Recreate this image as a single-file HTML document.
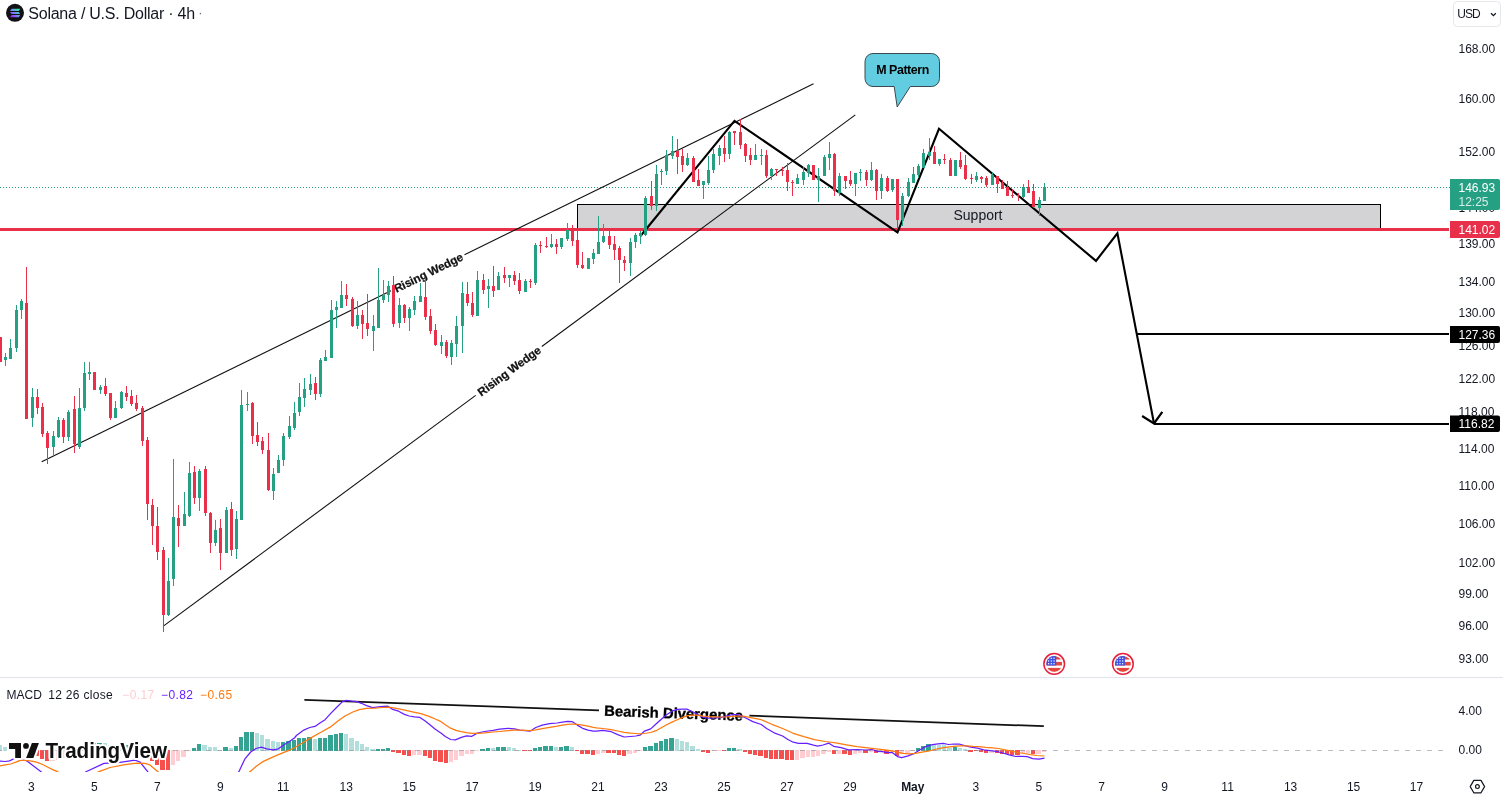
<!DOCTYPE html>
<html lang="en"><head><meta charset="utf-8"><title>Solana / U.S. Dollar 4h</title>
<style>
html,body{margin:0;padding:0;background:#fff;}
body{width:1503px;height:797px;overflow:hidden;font-family:'Liberation Sans', Arial, sans-serif;}
svg{display:block;will-change:transform;}
</style></head><body>
<svg width="1503" height="797" viewBox="0 0 1503 797">
<rect width="1503" height="797" fill="#fff"/>
<g shape-rendering="crispEdges">
<rect x="577.5" y="204.5" width="803" height="25" fill="#d3d3d5" stroke="#000" stroke-width="1"/>
<rect x="0" y="228" width="1449" height="3" fill="#e8304a"/>
</g>
<line x1="0" y1="187.5" x2="1450" y2="187.5" stroke="#26a083" stroke-width="1" stroke-dasharray="1 2" shape-rendering="crispEdges"/>
<line x1="41.7" y1="461.7" x2="391.0" y2="290.7" stroke="#111" stroke-width="1.1"/>
<line x1="464.5" y1="254.7" x2="813.5" y2="83.8" stroke="#111" stroke-width="1.1"/>
<line x1="163.0" y1="626.4" x2="475.7" y2="395.4" stroke="#111" stroke-width="1.1"/>
<line x1="541.8" y1="346.5" x2="855.3" y2="114.9" stroke="#111" stroke-width="1.1"/>
<text transform="translate(428.3,272.4) rotate(-26.09)" x="0" y="4.3" text-anchor="middle" font-family="'Liberation Sans', Arial, sans-serif" font-weight="700" font-size="11.6" letter-spacing="-0.1" stroke="#111" stroke-width="0.25" fill="#111">Rising Wedge</text>
<text transform="translate(509.0,370.8) rotate(-36.46)" x="0" y="4.3" text-anchor="middle" font-family="'Liberation Sans', Arial, sans-serif" font-weight="700" font-size="11.6" letter-spacing="-0.1" stroke="#111" stroke-width="0.25" fill="#111">Rising Wedge</text>
<polyline fill="none" stroke="#000" stroke-width="2.1" stroke-linejoin="miter" points="640.5,236 734.5,120.8 897.5,232.3 939,128.8 1096,260.9 1117.4,233.3 1154,423.5"/>
<polyline fill="none" stroke="#000" stroke-width="2.2" points="1142.1,416 1154,423.5 1162.3,411.8"/>
<line x1="1136.6" y1="333.5" x2="1449" y2="333.5" stroke="#000" stroke-width="2" shape-rendering="crispEdges"/>
<line x1="1154" y1="423.5" x2="1449" y2="423.5" stroke="#000" stroke-width="2" shape-rendering="crispEdges"/>
<text x="978" y="220" text-anchor="middle" font-family="'Liberation Sans', Arial, sans-serif" font-size="14" fill="#131722">Support</text>
<path d="M873,53.5 H931.5 a8,8 0 0 1 8,8 V78.5 a8,8 0 0 1 -8,8 H910.3 L897.2,107 L894.2,86.5 H873 a8,8 0 0 1 -8,-8 V61.5 a8,8 0 0 1 8,-8 Z" fill="#62cce0" stroke="#3a4a50" stroke-width="1"/>
<text x="902.5" y="73.8" text-anchor="middle" font-family="'Liberation Sans', Arial, sans-serif" font-weight="700" font-size="12.4" letter-spacing="-0.42" fill="#000">M Pattern</text>
<g shape-rendering="crispEdges">
<rect x="0" y="337" width="1" height="25" fill="#e8304a"/>
<rect x="-1" y="337" width="3" height="25" fill="#e8304a"/>
<rect x="5" y="353" width="1" height="13" fill="#26a083"/>
<rect x="4" y="357" width="3" height="3" fill="#26a083"/>
<rect x="10" y="339" width="1" height="20" fill="#26a083"/>
<rect x="9" y="348" width="3" height="11" fill="#26a083"/>
<rect x="16" y="305" width="1" height="47" fill="#26a083"/>
<rect x="15" y="310" width="3" height="38" fill="#26a083"/>
<rect x="21" y="299" width="1" height="20" fill="#26a083"/>
<rect x="20" y="301" width="3" height="9" fill="#26a083"/>
<rect x="26" y="267" width="1" height="152" fill="#e8304a"/>
<rect x="25" y="303" width="3" height="116" fill="#e8304a"/>
<rect x="32" y="388" width="1" height="39" fill="#26a083"/>
<rect x="31" y="397" width="3" height="21" fill="#26a083"/>
<rect x="37" y="389" width="1" height="25" fill="#e8304a"/>
<rect x="36" y="397" width="3" height="11" fill="#e8304a"/>
<rect x="42" y="403" width="1" height="34" fill="#e8304a"/>
<rect x="41" y="407" width="3" height="27" fill="#e8304a"/>
<rect x="47" y="431" width="1" height="33" fill="#e8304a"/>
<rect x="46" y="433" width="3" height="15" fill="#e8304a"/>
<rect x="53" y="431" width="1" height="24" fill="#26a083"/>
<rect x="52" y="436" width="3" height="11" fill="#26a083"/>
<rect x="58" y="417" width="1" height="21" fill="#26a083"/>
<rect x="57" y="420" width="3" height="17" fill="#26a083"/>
<rect x="63" y="418" width="1" height="25" fill="#e8304a"/>
<rect x="62" y="420" width="3" height="17" fill="#e8304a"/>
<rect x="68" y="410" width="1" height="31" fill="#26a083"/>
<rect x="67" y="412" width="3" height="25" fill="#26a083"/>
<rect x="74" y="396" width="1" height="57" fill="#e8304a"/>
<rect x="73" y="409" width="3" height="35" fill="#e8304a"/>
<rect x="79" y="388" width="1" height="61" fill="#26a083"/>
<rect x="78" y="408" width="3" height="39" fill="#26a083"/>
<rect x="84" y="362" width="1" height="49" fill="#26a083"/>
<rect x="83" y="373" width="3" height="35" fill="#26a083"/>
<rect x="89" y="362" width="1" height="18" fill="#26a083"/>
<rect x="88" y="372" width="3" height="2" fill="#26a083"/>
<rect x="94" y="372" width="1" height="18" fill="#e8304a"/>
<rect x="93" y="372" width="3" height="18" fill="#e8304a"/>
<rect x="100" y="385" width="1" height="9" fill="#26a083"/>
<rect x="99" y="387" width="3" height="3" fill="#26a083"/>
<rect x="105" y="378" width="1" height="18" fill="#e8304a"/>
<rect x="104" y="386" width="3" height="8" fill="#e8304a"/>
<rect x="110" y="393" width="1" height="27" fill="#e8304a"/>
<rect x="109" y="393" width="3" height="25" fill="#e8304a"/>
<rect x="115" y="401" width="1" height="17" fill="#26a083"/>
<rect x="114" y="408" width="3" height="10" fill="#26a083"/>
<rect x="121" y="391" width="1" height="18" fill="#26a083"/>
<rect x="120" y="392" width="3" height="16" fill="#26a083"/>
<rect x="126" y="386" width="1" height="15" fill="#e8304a"/>
<rect x="125" y="393" width="3" height="4" fill="#e8304a"/>
<rect x="131" y="390" width="1" height="16" fill="#e8304a"/>
<rect x="130" y="396" width="3" height="8" fill="#e8304a"/>
<rect x="136" y="395" width="1" height="16" fill="#e8304a"/>
<rect x="135" y="403" width="3" height="6" fill="#e8304a"/>
<rect x="142" y="406" width="1" height="40" fill="#e8304a"/>
<rect x="141" y="408" width="3" height="33" fill="#e8304a"/>
<rect x="147" y="437" width="1" height="83" fill="#e8304a"/>
<rect x="146" y="440" width="3" height="64" fill="#e8304a"/>
<rect x="152" y="499" width="1" height="46" fill="#e8304a"/>
<rect x="151" y="505" width="3" height="21" fill="#e8304a"/>
<rect x="157" y="507" width="1" height="53" fill="#e8304a"/>
<rect x="156" y="526" width="3" height="26" fill="#e8304a"/>
<rect x="163" y="547" width="1" height="85" fill="#e8304a"/>
<rect x="162" y="550" width="3" height="65" fill="#e8304a"/>
<rect x="168" y="558" width="1" height="58" fill="#26a083"/>
<rect x="167" y="581" width="3" height="34" fill="#26a083"/>
<rect x="173" y="459" width="1" height="127" fill="#26a083"/>
<rect x="172" y="517" width="3" height="62" fill="#26a083"/>
<rect x="178" y="505" width="1" height="42" fill="#e8304a"/>
<rect x="177" y="518" width="3" height="8" fill="#e8304a"/>
<rect x="184" y="492" width="1" height="34" fill="#26a083"/>
<rect x="183" y="514" width="3" height="12" fill="#26a083"/>
<rect x="189" y="462" width="1" height="55" fill="#26a083"/>
<rect x="188" y="473" width="3" height="43" fill="#26a083"/>
<rect x="194" y="466" width="1" height="38" fill="#e8304a"/>
<rect x="193" y="472" width="3" height="26" fill="#e8304a"/>
<rect x="199" y="469" width="1" height="42" fill="#26a083"/>
<rect x="198" y="471" width="3" height="27" fill="#26a083"/>
<rect x="205" y="466" width="1" height="50" fill="#e8304a"/>
<rect x="204" y="469" width="3" height="44" fill="#e8304a"/>
<rect x="210" y="512" width="1" height="41" fill="#e8304a"/>
<rect x="209" y="513" width="3" height="30" fill="#e8304a"/>
<rect x="215" y="520" width="1" height="26" fill="#26a083"/>
<rect x="214" y="530" width="3" height="13" fill="#26a083"/>
<rect x="220" y="519" width="1" height="51" fill="#e8304a"/>
<rect x="219" y="528" width="3" height="25" fill="#e8304a"/>
<rect x="226" y="507" width="1" height="46" fill="#26a083"/>
<rect x="225" y="510" width="3" height="43" fill="#26a083"/>
<rect x="231" y="502" width="1" height="54" fill="#e8304a"/>
<rect x="230" y="509" width="3" height="41" fill="#e8304a"/>
<rect x="236" y="511" width="1" height="48" fill="#26a083"/>
<rect x="235" y="519" width="3" height="30" fill="#26a083"/>
<rect x="241" y="390" width="1" height="130" fill="#26a083"/>
<rect x="240" y="405" width="3" height="115" fill="#26a083"/>
<rect x="247" y="392" width="1" height="19" fill="#26a083"/>
<rect x="246" y="404" width="3" height="1" fill="#26a083"/>
<rect x="252" y="402" width="1" height="42" fill="#e8304a"/>
<rect x="251" y="403" width="3" height="33" fill="#e8304a"/>
<rect x="257" y="422" width="1" height="24" fill="#e8304a"/>
<rect x="256" y="435" width="3" height="7" fill="#e8304a"/>
<rect x="262" y="437" width="1" height="17" fill="#e8304a"/>
<rect x="261" y="441" width="3" height="9" fill="#e8304a"/>
<rect x="268" y="433" width="1" height="58" fill="#e8304a"/>
<rect x="267" y="450" width="3" height="40" fill="#e8304a"/>
<rect x="273" y="468" width="1" height="32" fill="#26a083"/>
<rect x="272" y="474" width="3" height="17" fill="#26a083"/>
<rect x="278" y="455" width="1" height="18" fill="#26a083"/>
<rect x="277" y="460" width="3" height="13" fill="#26a083"/>
<rect x="283" y="433" width="1" height="33" fill="#26a083"/>
<rect x="282" y="436" width="3" height="24" fill="#26a083"/>
<rect x="289" y="416" width="1" height="23" fill="#26a083"/>
<rect x="288" y="426" width="3" height="11" fill="#26a083"/>
<rect x="294" y="402" width="1" height="28" fill="#26a083"/>
<rect x="293" y="413" width="3" height="15" fill="#26a083"/>
<rect x="299" y="383" width="1" height="33" fill="#26a083"/>
<rect x="298" y="397" width="3" height="15" fill="#26a083"/>
<rect x="304" y="378" width="1" height="29" fill="#26a083"/>
<rect x="303" y="389" width="3" height="9" fill="#26a083"/>
<rect x="310" y="374" width="1" height="21" fill="#26a083"/>
<rect x="309" y="384" width="3" height="6" fill="#26a083"/>
<rect x="315" y="377" width="1" height="23" fill="#e8304a"/>
<rect x="314" y="383" width="3" height="11" fill="#e8304a"/>
<rect x="320" y="358" width="1" height="39" fill="#26a083"/>
<rect x="319" y="360" width="3" height="34" fill="#26a083"/>
<rect x="325" y="350" width="1" height="11" fill="#26a083"/>
<rect x="324" y="357" width="3" height="4" fill="#26a083"/>
<rect x="331" y="300" width="1" height="58" fill="#26a083"/>
<rect x="330" y="310" width="3" height="48" fill="#26a083"/>
<rect x="336" y="301" width="1" height="27" fill="#26a083"/>
<rect x="335" y="307" width="3" height="3" fill="#26a083"/>
<rect x="341" y="281" width="1" height="27" fill="#26a083"/>
<rect x="340" y="295" width="3" height="13" fill="#26a083"/>
<rect x="346" y="284" width="1" height="22" fill="#e8304a"/>
<rect x="345" y="295" width="3" height="4" fill="#e8304a"/>
<rect x="352" y="297" width="1" height="30" fill="#e8304a"/>
<rect x="351" y="299" width="3" height="27" fill="#e8304a"/>
<rect x="357" y="301" width="1" height="28" fill="#26a083"/>
<rect x="356" y="315" width="3" height="11" fill="#26a083"/>
<rect x="362" y="310" width="1" height="29" fill="#e8304a"/>
<rect x="361" y="315" width="3" height="9" fill="#e8304a"/>
<rect x="367" y="294" width="1" height="42" fill="#e8304a"/>
<rect x="366" y="323" width="3" height="6" fill="#e8304a"/>
<rect x="373" y="315" width="1" height="36" fill="#26a083"/>
<rect x="372" y="326" width="3" height="5" fill="#26a083"/>
<rect x="378" y="268" width="1" height="60" fill="#26a083"/>
<rect x="377" y="300" width="3" height="28" fill="#26a083"/>
<rect x="383" y="280" width="1" height="23" fill="#26a083"/>
<rect x="382" y="295" width="3" height="5" fill="#26a083"/>
<rect x="388" y="281" width="1" height="21" fill="#26a083"/>
<rect x="387" y="286" width="3" height="9" fill="#26a083"/>
<rect x="393" y="276" width="1" height="51" fill="#e8304a"/>
<rect x="392" y="285" width="3" height="39" fill="#e8304a"/>
<rect x="399" y="298" width="1" height="30" fill="#26a083"/>
<rect x="398" y="305" width="3" height="18" fill="#26a083"/>
<rect x="404" y="304" width="1" height="19" fill="#e8304a"/>
<rect x="403" y="305" width="3" height="13" fill="#e8304a"/>
<rect x="409" y="307" width="1" height="24" fill="#26a083"/>
<rect x="408" y="309" width="3" height="9" fill="#26a083"/>
<rect x="414" y="296" width="1" height="19" fill="#26a083"/>
<rect x="413" y="301" width="3" height="9" fill="#26a083"/>
<rect x="420" y="283" width="1" height="19" fill="#26a083"/>
<rect x="419" y="296" width="3" height="6" fill="#26a083"/>
<rect x="425" y="278" width="1" height="42" fill="#e8304a"/>
<rect x="424" y="297" width="3" height="20" fill="#e8304a"/>
<rect x="430" y="309" width="1" height="25" fill="#e8304a"/>
<rect x="429" y="316" width="3" height="15" fill="#e8304a"/>
<rect x="435" y="324" width="1" height="22" fill="#e8304a"/>
<rect x="434" y="330" width="3" height="15" fill="#e8304a"/>
<rect x="441" y="335" width="1" height="19" fill="#26a083"/>
<rect x="440" y="342" width="3" height="4" fill="#26a083"/>
<rect x="446" y="340" width="1" height="18" fill="#e8304a"/>
<rect x="445" y="342" width="3" height="14" fill="#e8304a"/>
<rect x="451" y="340" width="1" height="25" fill="#26a083"/>
<rect x="450" y="343" width="3" height="14" fill="#26a083"/>
<rect x="456" y="316" width="1" height="41" fill="#26a083"/>
<rect x="455" y="326" width="3" height="18" fill="#26a083"/>
<rect x="462" y="282" width="1" height="71" fill="#26a083"/>
<rect x="461" y="293" width="3" height="33" fill="#26a083"/>
<rect x="467" y="282" width="1" height="24" fill="#e8304a"/>
<rect x="466" y="294" width="3" height="9" fill="#e8304a"/>
<rect x="472" y="292" width="1" height="25" fill="#e8304a"/>
<rect x="471" y="303" width="3" height="12" fill="#e8304a"/>
<rect x="477" y="271" width="1" height="45" fill="#26a083"/>
<rect x="476" y="280" width="3" height="36" fill="#26a083"/>
<rect x="483" y="274" width="1" height="20" fill="#e8304a"/>
<rect x="482" y="280" width="3" height="10" fill="#e8304a"/>
<rect x="488" y="279" width="1" height="29" fill="#26a083"/>
<rect x="487" y="286" width="3" height="3" fill="#26a083"/>
<rect x="493" y="266" width="1" height="31" fill="#e8304a"/>
<rect x="492" y="286" width="3" height="5" fill="#e8304a"/>
<rect x="498" y="272" width="1" height="18" fill="#26a083"/>
<rect x="497" y="276" width="3" height="14" fill="#26a083"/>
<rect x="504" y="267" width="1" height="16" fill="#e8304a"/>
<rect x="503" y="275" width="3" height="3" fill="#e8304a"/>
<rect x="509" y="275" width="1" height="12" fill="#26a083"/>
<rect x="508" y="275" width="3" height="3" fill="#26a083"/>
<rect x="514" y="271" width="1" height="14" fill="#e8304a"/>
<rect x="513" y="275" width="3" height="6" fill="#e8304a"/>
<rect x="519" y="273" width="1" height="21" fill="#e8304a"/>
<rect x="518" y="280" width="3" height="11" fill="#e8304a"/>
<rect x="525" y="279" width="1" height="13" fill="#26a083"/>
<rect x="524" y="281" width="3" height="11" fill="#26a083"/>
<rect x="530" y="279" width="1" height="9" fill="#e8304a"/>
<rect x="529" y="281" width="3" height="1" fill="#e8304a"/>
<rect x="535" y="243" width="1" height="42" fill="#26a083"/>
<rect x="534" y="245" width="3" height="38" fill="#26a083"/>
<rect x="540" y="241" width="1" height="12" fill="#e8304a"/>
<rect x="539" y="245" width="3" height="1" fill="#e8304a"/>
<rect x="546" y="237" width="1" height="11" fill="#e8304a"/>
<rect x="545" y="246" width="3" height="1" fill="#e8304a"/>
<rect x="551" y="234" width="1" height="14" fill="#26a083"/>
<rect x="550" y="244" width="3" height="3" fill="#26a083"/>
<rect x="556" y="239" width="1" height="15" fill="#e8304a"/>
<rect x="555" y="244" width="3" height="3" fill="#e8304a"/>
<rect x="561" y="238" width="1" height="11" fill="#26a083"/>
<rect x="560" y="238" width="3" height="9" fill="#26a083"/>
<rect x="567" y="223" width="1" height="18" fill="#26a083"/>
<rect x="566" y="230" width="3" height="9" fill="#26a083"/>
<rect x="572" y="225" width="1" height="21" fill="#e8304a"/>
<rect x="571" y="231" width="3" height="10" fill="#e8304a"/>
<rect x="577" y="231" width="1" height="37" fill="#e8304a"/>
<rect x="576" y="240" width="3" height="25" fill="#e8304a"/>
<rect x="582" y="252" width="1" height="17" fill="#e8304a"/>
<rect x="581" y="265" width="3" height="3" fill="#e8304a"/>
<rect x="588" y="258" width="1" height="11" fill="#26a083"/>
<rect x="587" y="258" width="3" height="11" fill="#26a083"/>
<rect x="593" y="249" width="1" height="15" fill="#26a083"/>
<rect x="592" y="253" width="3" height="6" fill="#26a083"/>
<rect x="598" y="216" width="1" height="38" fill="#26a083"/>
<rect x="597" y="242" width="3" height="12" fill="#26a083"/>
<rect x="603" y="224" width="1" height="19" fill="#26a083"/>
<rect x="602" y="236" width="3" height="6" fill="#26a083"/>
<rect x="609" y="231" width="1" height="18" fill="#e8304a"/>
<rect x="608" y="236" width="3" height="9" fill="#e8304a"/>
<rect x="614" y="236" width="1" height="24" fill="#e8304a"/>
<rect x="613" y="244" width="3" height="6" fill="#e8304a"/>
<rect x="619" y="246" width="1" height="37" fill="#e8304a"/>
<rect x="618" y="248" width="3" height="12" fill="#e8304a"/>
<rect x="624" y="256" width="1" height="15" fill="#e8304a"/>
<rect x="623" y="260" width="3" height="3" fill="#e8304a"/>
<rect x="630" y="238" width="1" height="38" fill="#26a083"/>
<rect x="629" y="242" width="3" height="21" fill="#26a083"/>
<rect x="635" y="233" width="1" height="15" fill="#26a083"/>
<rect x="634" y="235" width="3" height="7" fill="#26a083"/>
<rect x="640" y="231" width="1" height="13" fill="#26a083"/>
<rect x="639" y="233" width="3" height="3" fill="#26a083"/>
<rect x="645" y="196" width="1" height="40" fill="#26a083"/>
<rect x="644" y="198" width="3" height="37" fill="#26a083"/>
<rect x="651" y="181" width="1" height="29" fill="#e8304a"/>
<rect x="650" y="196" width="3" height="10" fill="#e8304a"/>
<rect x="656" y="165" width="1" height="46" fill="#26a083"/>
<rect x="655" y="174" width="3" height="32" fill="#26a083"/>
<rect x="661" y="169" width="1" height="16" fill="#26a083"/>
<rect x="660" y="171" width="3" height="1" fill="#26a083"/>
<rect x="666" y="150" width="1" height="25" fill="#26a083"/>
<rect x="665" y="155" width="3" height="16" fill="#26a083"/>
<rect x="672" y="136" width="1" height="23" fill="#26a083"/>
<rect x="671" y="151" width="3" height="5" fill="#26a083"/>
<rect x="677" y="139" width="1" height="35" fill="#e8304a"/>
<rect x="676" y="151" width="3" height="6" fill="#e8304a"/>
<rect x="682" y="149" width="1" height="23" fill="#e8304a"/>
<rect x="681" y="156" width="3" height="9" fill="#e8304a"/>
<rect x="687" y="153" width="1" height="13" fill="#26a083"/>
<rect x="686" y="158" width="3" height="7" fill="#26a083"/>
<rect x="693" y="156" width="1" height="26" fill="#e8304a"/>
<rect x="692" y="158" width="3" height="24" fill="#e8304a"/>
<rect x="698" y="169" width="1" height="17" fill="#e8304a"/>
<rect x="697" y="180" width="3" height="6" fill="#e8304a"/>
<rect x="703" y="181" width="1" height="18" fill="#26a083"/>
<rect x="702" y="181" width="3" height="4" fill="#26a083"/>
<rect x="708" y="156" width="1" height="29" fill="#26a083"/>
<rect x="707" y="170" width="3" height="13" fill="#26a083"/>
<rect x="713" y="149" width="1" height="24" fill="#26a083"/>
<rect x="712" y="154" width="3" height="16" fill="#26a083"/>
<rect x="719" y="145" width="1" height="20" fill="#26a083"/>
<rect x="718" y="148" width="3" height="8" fill="#26a083"/>
<rect x="724" y="136" width="1" height="26" fill="#e8304a"/>
<rect x="723" y="148" width="3" height="6" fill="#e8304a"/>
<rect x="729" y="131" width="1" height="28" fill="#26a083"/>
<rect x="728" y="132" width="3" height="22" fill="#26a083"/>
<rect x="734" y="131" width="1" height="14" fill="#e8304a"/>
<rect x="733" y="131" width="3" height="2" fill="#e8304a"/>
<rect x="740" y="119" width="1" height="30" fill="#e8304a"/>
<rect x="739" y="132" width="3" height="13" fill="#e8304a"/>
<rect x="745" y="143" width="1" height="19" fill="#e8304a"/>
<rect x="744" y="144" width="3" height="12" fill="#e8304a"/>
<rect x="750" y="148" width="1" height="17" fill="#e8304a"/>
<rect x="749" y="155" width="3" height="5" fill="#e8304a"/>
<rect x="755" y="144" width="1" height="16" fill="#26a083"/>
<rect x="754" y="155" width="3" height="5" fill="#26a083"/>
<rect x="761" y="149" width="1" height="16" fill="#26a083"/>
<rect x="760" y="155" width="3" height="1" fill="#26a083"/>
<rect x="766" y="150" width="1" height="28" fill="#e8304a"/>
<rect x="765" y="155" width="3" height="21" fill="#e8304a"/>
<rect x="771" y="168" width="1" height="12" fill="#26a083"/>
<rect x="770" y="169" width="3" height="7" fill="#26a083"/>
<rect x="776" y="169" width="1" height="7" fill="#e8304a"/>
<rect x="775" y="169" width="3" height="1" fill="#e8304a"/>
<rect x="782" y="167" width="1" height="9" fill="#e8304a"/>
<rect x="781" y="170" width="3" height="1" fill="#e8304a"/>
<rect x="787" y="163" width="1" height="28" fill="#e8304a"/>
<rect x="786" y="170" width="3" height="12" fill="#e8304a"/>
<rect x="792" y="180" width="1" height="16" fill="#e8304a"/>
<rect x="791" y="182" width="3" height="1" fill="#e8304a"/>
<rect x="797" y="174" width="1" height="10" fill="#26a083"/>
<rect x="796" y="178" width="3" height="6" fill="#26a083"/>
<rect x="803" y="167" width="1" height="18" fill="#26a083"/>
<rect x="802" y="172" width="3" height="8" fill="#26a083"/>
<rect x="808" y="164" width="1" height="13" fill="#26a083"/>
<rect x="807" y="165" width="3" height="8" fill="#26a083"/>
<rect x="813" y="165" width="1" height="15" fill="#e8304a"/>
<rect x="812" y="165" width="3" height="15" fill="#e8304a"/>
<rect x="818" y="168" width="1" height="34" fill="#26a083"/>
<rect x="817" y="176" width="3" height="4" fill="#26a083"/>
<rect x="824" y="155" width="1" height="21" fill="#26a083"/>
<rect x="823" y="157" width="3" height="19" fill="#26a083"/>
<rect x="829" y="142" width="1" height="28" fill="#26a083"/>
<rect x="828" y="154" width="3" height="4" fill="#26a083"/>
<rect x="834" y="153" width="1" height="43" fill="#e8304a"/>
<rect x="833" y="154" width="3" height="37" fill="#e8304a"/>
<rect x="839" y="173" width="1" height="23" fill="#26a083"/>
<rect x="838" y="176" width="3" height="17" fill="#26a083"/>
<rect x="845" y="176" width="1" height="13" fill="#e8304a"/>
<rect x="844" y="176" width="3" height="5" fill="#e8304a"/>
<rect x="850" y="171" width="1" height="15" fill="#e8304a"/>
<rect x="849" y="180" width="3" height="4" fill="#e8304a"/>
<rect x="855" y="173" width="1" height="23" fill="#26a083"/>
<rect x="854" y="173" width="3" height="11" fill="#26a083"/>
<rect x="860" y="169" width="1" height="12" fill="#26a083"/>
<rect x="859" y="172" width="3" height="1" fill="#26a083"/>
<rect x="866" y="170" width="1" height="16" fill="#e8304a"/>
<rect x="865" y="172" width="3" height="8" fill="#e8304a"/>
<rect x="871" y="162" width="1" height="19" fill="#26a083"/>
<rect x="870" y="170" width="3" height="10" fill="#26a083"/>
<rect x="876" y="169" width="1" height="31" fill="#e8304a"/>
<rect x="875" y="170" width="3" height="21" fill="#e8304a"/>
<rect x="881" y="174" width="1" height="25" fill="#26a083"/>
<rect x="880" y="178" width="3" height="13" fill="#26a083"/>
<rect x="887" y="176" width="1" height="16" fill="#e8304a"/>
<rect x="886" y="178" width="3" height="13" fill="#e8304a"/>
<rect x="892" y="179" width="1" height="13" fill="#26a083"/>
<rect x="891" y="179" width="3" height="11" fill="#26a083"/>
<rect x="897" y="179" width="1" height="50" fill="#e8304a"/>
<rect x="896" y="179" width="3" height="41" fill="#e8304a"/>
<rect x="902" y="193" width="1" height="33" fill="#26a083"/>
<rect x="901" y="196" width="3" height="24" fill="#26a083"/>
<rect x="908" y="178" width="1" height="19" fill="#26a083"/>
<rect x="907" y="182" width="3" height="14" fill="#26a083"/>
<rect x="913" y="167" width="1" height="16" fill="#26a083"/>
<rect x="912" y="174" width="3" height="9" fill="#26a083"/>
<rect x="918" y="164" width="1" height="14" fill="#26a083"/>
<rect x="917" y="166" width="3" height="9" fill="#26a083"/>
<rect x="923" y="149" width="1" height="19" fill="#26a083"/>
<rect x="922" y="153" width="3" height="15" fill="#26a083"/>
<rect x="929" y="138" width="1" height="22" fill="#26a083"/>
<rect x="928" y="152" width="3" height="4" fill="#26a083"/>
<rect x="934" y="146" width="1" height="18" fill="#e8304a"/>
<rect x="933" y="152" width="3" height="12" fill="#e8304a"/>
<rect x="939" y="159" width="1" height="7" fill="#26a083"/>
<rect x="938" y="159" width="3" height="5" fill="#26a083"/>
<rect x="944" y="154" width="1" height="10" fill="#e8304a"/>
<rect x="943" y="159" width="3" height="1" fill="#e8304a"/>
<rect x="950" y="158" width="1" height="18" fill="#e8304a"/>
<rect x="949" y="160" width="3" height="16" fill="#e8304a"/>
<rect x="955" y="160" width="1" height="16" fill="#26a083"/>
<rect x="954" y="160" width="3" height="16" fill="#26a083"/>
<rect x="960" y="152" width="1" height="17" fill="#e8304a"/>
<rect x="959" y="160" width="3" height="7" fill="#e8304a"/>
<rect x="965" y="155" width="1" height="25" fill="#e8304a"/>
<rect x="964" y="165" width="3" height="14" fill="#e8304a"/>
<rect x="971" y="174" width="1" height="10" fill="#e8304a"/>
<rect x="970" y="178" width="3" height="1" fill="#e8304a"/>
<rect x="976" y="172" width="1" height="10" fill="#26a083"/>
<rect x="975" y="176" width="3" height="4" fill="#26a083"/>
<rect x="981" y="176" width="1" height="7" fill="#e8304a"/>
<rect x="980" y="177" width="3" height="2" fill="#e8304a"/>
<rect x="986" y="176" width="1" height="11" fill="#e8304a"/>
<rect x="985" y="178" width="3" height="7" fill="#e8304a"/>
<rect x="992" y="172" width="1" height="13" fill="#26a083"/>
<rect x="991" y="175" width="3" height="10" fill="#26a083"/>
<rect x="997" y="176" width="1" height="17" fill="#e8304a"/>
<rect x="996" y="176" width="3" height="8" fill="#e8304a"/>
<rect x="1002" y="180" width="1" height="9" fill="#e8304a"/>
<rect x="1001" y="183" width="3" height="6" fill="#e8304a"/>
<rect x="1007" y="181" width="1" height="15" fill="#e8304a"/>
<rect x="1006" y="187" width="3" height="9" fill="#e8304a"/>
<rect x="1012" y="189" width="1" height="9" fill="#e8304a"/>
<rect x="1011" y="195" width="3" height="1" fill="#e8304a"/>
<rect x="1018" y="193" width="1" height="8" fill="#e8304a"/>
<rect x="1017" y="195" width="3" height="1" fill="#e8304a"/>
<rect x="1023" y="184" width="1" height="14" fill="#26a083"/>
<rect x="1022" y="187" width="3" height="10" fill="#26a083"/>
<rect x="1028" y="180" width="1" height="13" fill="#e8304a"/>
<rect x="1027" y="187" width="3" height="6" fill="#e8304a"/>
<rect x="1033" y="184" width="1" height="24" fill="#e8304a"/>
<rect x="1032" y="191" width="3" height="16" fill="#e8304a"/>
<rect x="1039" y="197" width="1" height="19" fill="#26a083"/>
<rect x="1038" y="200" width="3" height="8" fill="#26a083"/>
<rect x="1044" y="183" width="1" height="18" fill="#26a083"/>
<rect x="1043" y="187" width="3" height="14" fill="#26a083"/>
</g>
<g transform="translate(1054.2,663.9)">
<circle r="10.3" fill="#fff" stroke="#e8203a" stroke-width="1.5"/>
<clipPath id="fc1054"><circle r="8"/></clipPath>
<g clip-path="url(#fc1054)">
<rect x="-8" y="-8" width="16" height="16" fill="#fff"/>
<rect x="-8" y="-7.6" width="16" height="3.2" fill="#e5463c"/>
<rect x="-8" y="-2" width="16" height="3.6" fill="#e5463c"/>
<rect x="-8" y="4" width="16" height="4" fill="#e5463c"/>
<rect x="-8" y="-8" width="10" height="9.6" fill="#3f51e0"/>
<rect x="-6.2" y="-6.2" width="1.2" height="1.2" fill="#fff"/>
<rect x="-3.5" y="-6.2" width="1.2" height="1.2" fill="#fff"/>
<rect x="-0.8" y="-6.2" width="1.2" height="1.2" fill="#fff"/>
<rect x="-6.2" y="-3.5" width="1.2" height="1.2" fill="#fff"/>
<rect x="-3.5" y="-3.5" width="1.2" height="1.2" fill="#fff"/>
<rect x="-0.8" y="-3.5" width="1.2" height="1.2" fill="#fff"/>
<rect x="-6.2" y="-0.8" width="1.2" height="1.2" fill="#fff"/>
<rect x="-3.5" y="-0.8" width="1.2" height="1.2" fill="#fff"/>
<rect x="-0.8" y="-0.8" width="1.2" height="1.2" fill="#fff"/>
</g></g>
<g transform="translate(1122.9,663.9)">
<circle r="10.3" fill="#fff" stroke="#e8203a" stroke-width="1.5"/>
<clipPath id="fc1122"><circle r="8"/></clipPath>
<g clip-path="url(#fc1122)">
<rect x="-8" y="-8" width="16" height="16" fill="#fff"/>
<rect x="-8" y="-7.6" width="16" height="3.2" fill="#e5463c"/>
<rect x="-8" y="-2" width="16" height="3.6" fill="#e5463c"/>
<rect x="-8" y="4" width="16" height="4" fill="#e5463c"/>
<rect x="-8" y="-8" width="10" height="9.6" fill="#3f51e0"/>
<rect x="-6.2" y="-6.2" width="1.2" height="1.2" fill="#fff"/>
<rect x="-3.5" y="-6.2" width="1.2" height="1.2" fill="#fff"/>
<rect x="-0.8" y="-6.2" width="1.2" height="1.2" fill="#fff"/>
<rect x="-6.2" y="-3.5" width="1.2" height="1.2" fill="#fff"/>
<rect x="-3.5" y="-3.5" width="1.2" height="1.2" fill="#fff"/>
<rect x="-0.8" y="-3.5" width="1.2" height="1.2" fill="#fff"/>
<rect x="-6.2" y="-0.8" width="1.2" height="1.2" fill="#fff"/>
<rect x="-3.5" y="-0.8" width="1.2" height="1.2" fill="#fff"/>
<rect x="-0.8" y="-0.8" width="1.2" height="1.2" fill="#fff"/>
</g></g>
<text x="1458.5" y="53.2" font-family="'Liberation Sans', Arial, sans-serif" font-size="12" fill="#131722">168.00</text>
<text x="1458.5" y="102.5" font-family="'Liberation Sans', Arial, sans-serif" font-size="12" fill="#131722">160.00</text>
<text x="1458.5" y="156.0" font-family="'Liberation Sans', Arial, sans-serif" font-size="12" fill="#131722">152.00</text>
<text x="1458.5" y="212.1" font-family="'Liberation Sans', Arial, sans-serif" font-size="12" fill="#131722">144.00</text>
<text x="1458.5" y="247.8" font-family="'Liberation Sans', Arial, sans-serif" font-size="12" fill="#131722">139.00</text>
<text x="1458.5" y="285.9" font-family="'Liberation Sans', Arial, sans-serif" font-size="12" fill="#131722">134.00</text>
<text x="1458.5" y="316.9" font-family="'Liberation Sans', Arial, sans-serif" font-size="12" fill="#131722">130.00</text>
<text x="1458.5" y="349.9" font-family="'Liberation Sans', Arial, sans-serif" font-size="12" fill="#131722">126.00</text>
<text x="1458.5" y="382.9" font-family="'Liberation Sans', Arial, sans-serif" font-size="12" fill="#131722">122.00</text>
<text x="1458.5" y="415.9" font-family="'Liberation Sans', Arial, sans-serif" font-size="12" fill="#131722">118.00</text>
<text x="1458.5" y="453.1" font-family="'Liberation Sans', Arial, sans-serif" font-size="12" fill="#131722">114.00</text>
<text x="1458.5" y="489.5" font-family="'Liberation Sans', Arial, sans-serif" font-size="12" fill="#131722">110.00</text>
<text x="1458.5" y="528.1" font-family="'Liberation Sans', Arial, sans-serif" font-size="12" fill="#131722">106.00</text>
<text x="1458.5" y="566.6" font-family="'Liberation Sans', Arial, sans-serif" font-size="12" fill="#131722">102.00</text>
<text x="1458.5" y="597.9" font-family="'Liberation Sans', Arial, sans-serif" font-size="12" fill="#131722">99.00</text>
<text x="1458.5" y="629.7" font-family="'Liberation Sans', Arial, sans-serif" font-size="12" fill="#131722">96.00</text>
<text x="1458.5" y="662.9" font-family="'Liberation Sans', Arial, sans-serif" font-size="12" fill="#131722">93.00</text>
<text x="1458.5" y="715.0" font-family="'Liberation Sans', Arial, sans-serif" font-size="12" fill="#131722">4.00</text>
<text x="1458.5" y="754.0" font-family="'Liberation Sans', Arial, sans-serif" font-size="12" fill="#131722">0.00</text>
<path d="M1450,179 H1498 a2,2 0 0 1 2,2 V208 a2,2 0 0 1 -2,2 H1450 Z" fill="#26a083"/>
<text x="1458.5" y="191.5" font-family="'Liberation Sans', Arial, sans-serif" font-size="12" fill="#fff">146.93</text>
<text x="1458.5" y="206" font-family="'Liberation Sans', Arial, sans-serif" font-size="12" fill="#fff" fill-opacity="0.8">12:25</text>
<path d="M1450,221 H1498 a2,2 0 0 1 2,2 V236 a2,2 0 0 1 -2,2 H1450 Z" fill="#e8304a"/>
<text x="1458.5" y="233.8" font-family="'Liberation Sans', Arial, sans-serif" font-size="12" fill="#fff">141.02</text>
<path d="M1450,326 H1498 a2,2 0 0 1 2,2 V341 a2,2 0 0 1 -2,2 H1450 Z" fill="#000"/>
<text x="1458.5" y="338.8" font-family="'Liberation Sans', Arial, sans-serif" font-size="12" fill="#fff">127.36</text>
<path d="M1450,415.5 H1498 a2,2 0 0 1 2,2 V430 a2,2 0 0 1 -2,2 H1450 Z" fill="#000"/>
<text x="1458.5" y="428" font-family="'Liberation Sans', Arial, sans-serif" font-size="12" fill="#fff">116.82</text>
<rect x="1453.5" y="1.5" width="47" height="25" rx="4" fill="#fff" stroke="#e6e7eb" stroke-width="1"/>
<text x="1457.3" y="17.9" font-family="'Liberation Sans', Arial, sans-serif" font-size="12" letter-spacing="-1" fill="#131722">USD</text>
<path d="M1491.0,13.2 l2.4,2.4 l2.4,-2.4" fill="none" stroke="#131722" stroke-width="1.3"/>
<circle cx="15" cy="12.8" r="9" fill="#121116"/>
<defs><linearGradient id="sol" gradientUnits="userSpaceOnUse" x1="10.5" y1="17.5" x2="19.5" y2="8.5"><stop offset="0" stop-color="#a30dff"/><stop offset="0.5" stop-color="#6f8ff0"/><stop offset="1" stop-color="#22fb9a"/></linearGradient></defs>
<g fill="url(#sol)"><path d="M11.6,8.8 H20.2 L18.8,10.9 H9.95 Z"/><path d="M9.95,12 H18.8 L20.2,14.1 H11.4 Z"/><path d="M11.6,15.1 H20.2 L18.8,17.2 H9.95 Z"/></g>
<text x="28.3" y="19" font-family="'Liberation Sans', Arial, sans-serif" font-size="16" letter-spacing="-0.24" fill="#131722">Solana / U.S. Dollar · 4h<tspan fill="#6a6d78" font-size="13" dx="3.5" dy="-2.3">·</tspan></text>
<rect x="0" y="677" width="1503" height="1" fill="#e0e3eb" shape-rendering="crispEdges"/>
<clipPath id="mclip"><rect x="0" y="678" width="1450" height="94"/></clipPath>
<g clip-path="url(#mclip)">
<g shape-rendering="crispEdges">
<rect x="-2" y="745" width="4" height="6" fill="#b2dfdb"/>
<rect x="3" y="747" width="4" height="4" fill="#b2dfdb"/>
<rect x="8" y="748" width="4" height="3" fill="#b2dfdb"/>
<rect x="13" y="747" width="5" height="4" fill="#34a391"/>
<rect x="19" y="746" width="4" height="5" fill="#34a391"/>
<rect x="24" y="750" width="4" height="1" fill="#f5504e"/>
<rect x="29" y="750" width="5" height="4" fill="#f5504e"/>
<rect x="35" y="750" width="4" height="6" fill="#f5504e"/>
<rect x="40" y="750" width="4" height="9" fill="#f5504e"/>
<rect x="45" y="750" width="4" height="11" fill="#f5504e"/>
<rect x="50" y="750" width="5" height="11" fill="#ffcdd2"/>
<rect x="56" y="750" width="4" height="10" fill="#ffcdd2"/>
<rect x="61" y="750" width="4" height="8" fill="#ffcdd2"/>
<rect x="66" y="750" width="4" height="6" fill="#ffcdd2"/>
<rect x="71" y="750" width="5" height="5" fill="#ffcdd2"/>
<rect x="77" y="750" width="4" height="2" fill="#ffcdd2"/>
<rect x="82" y="748" width="4" height="3" fill="#34a391"/>
<rect x="87" y="745" width="4" height="6" fill="#34a391"/>
<rect x="92" y="743" width="4" height="8" fill="#34a391"/>
<rect x="97" y="743" width="5" height="8" fill="#34a391"/>
<rect x="103" y="743" width="4" height="8" fill="#b2dfdb"/>
<rect x="108" y="745" width="4" height="6" fill="#b2dfdb"/>
<rect x="113" y="746" width="4" height="5" fill="#b2dfdb"/>
<rect x="118" y="746" width="5" height="5" fill="#34a391"/>
<rect x="124" y="745" width="4" height="6" fill="#34a391"/>
<rect x="129" y="746" width="4" height="5" fill="#b2dfdb"/>
<rect x="134" y="748" width="4" height="3" fill="#b2dfdb"/>
<rect x="139" y="750" width="5" height="2" fill="#f5504e"/>
<rect x="145" y="750" width="4" height="7" fill="#f5504e"/>
<rect x="150" y="750" width="4" height="11" fill="#f5504e"/>
<rect x="155" y="750" width="4" height="15" fill="#f5504e"/>
<rect x="160" y="750" width="5" height="20" fill="#f5504e"/>
<rect x="166" y="750" width="4" height="20" fill="#f5504e"/>
<rect x="171" y="750" width="4" height="15" fill="#ffcdd2"/>
<rect x="176" y="750" width="4" height="11" fill="#ffcdd2"/>
<rect x="181" y="750" width="5" height="7" fill="#ffcdd2"/>
<rect x="187" y="750" width="4" height="1" fill="#ffcdd2"/>
<rect x="192" y="748" width="4" height="3" fill="#34a391"/>
<rect x="197" y="744" width="4" height="7" fill="#34a391"/>
<rect x="202" y="745" width="5" height="6" fill="#b2dfdb"/>
<rect x="208" y="747" width="4" height="4" fill="#b2dfdb"/>
<rect x="213" y="747" width="4" height="4" fill="#b2dfdb"/>
<rect x="218" y="750" width="4" height="1" fill="#b2dfdb"/>
<rect x="223" y="747" width="5" height="4" fill="#34a391"/>
<rect x="229" y="748" width="4" height="3" fill="#b2dfdb"/>
<rect x="234" y="746" width="4" height="5" fill="#34a391"/>
<rect x="239" y="737" width="4" height="14" fill="#34a391"/>
<rect x="244" y="732" width="5" height="19" fill="#34a391"/>
<rect x="250" y="732" width="4" height="19" fill="#34a391"/>
<rect x="255" y="733" width="4" height="18" fill="#b2dfdb"/>
<rect x="260" y="735" width="4" height="16" fill="#b2dfdb"/>
<rect x="265" y="739" width="5" height="12" fill="#b2dfdb"/>
<rect x="271" y="741" width="4" height="10" fill="#b2dfdb"/>
<rect x="276" y="742" width="4" height="9" fill="#b2dfdb"/>
<rect x="281" y="742" width="4" height="9" fill="#34a391"/>
<rect x="286" y="741" width="5" height="10" fill="#34a391"/>
<rect x="292" y="740" width="4" height="11" fill="#34a391"/>
<rect x="297" y="738" width="4" height="13" fill="#34a391"/>
<rect x="302" y="738" width="4" height="13" fill="#34a391"/>
<rect x="307" y="737" width="5" height="14" fill="#34a391"/>
<rect x="313" y="739" width="4" height="12" fill="#b2dfdb"/>
<rect x="318" y="738" width="4" height="13" fill="#34a391"/>
<rect x="323" y="738" width="4" height="13" fill="#34a391"/>
<rect x="328" y="735" width="5" height="16" fill="#34a391"/>
<rect x="334" y="734" width="4" height="17" fill="#34a391"/>
<rect x="339" y="733" width="4" height="18" fill="#34a391"/>
<rect x="344" y="734" width="4" height="17" fill="#b2dfdb"/>
<rect x="349" y="738" width="5" height="13" fill="#b2dfdb"/>
<rect x="355" y="741" width="4" height="10" fill="#b2dfdb"/>
<rect x="360" y="744" width="4" height="7" fill="#b2dfdb"/>
<rect x="365" y="747" width="4" height="4" fill="#b2dfdb"/>
<rect x="370" y="749" width="5" height="2" fill="#b2dfdb"/>
<rect x="376" y="749" width="4" height="2" fill="#34a391"/>
<rect x="381" y="749" width="4" height="2" fill="#34a391"/>
<rect x="386" y="748" width="4" height="3" fill="#34a391"/>
<rect x="391" y="750" width="4" height="2" fill="#f5504e"/>
<rect x="396" y="750" width="5" height="3" fill="#f5504e"/>
<rect x="402" y="750" width="4" height="5" fill="#f5504e"/>
<rect x="407" y="750" width="4" height="6" fill="#f5504e"/>
<rect x="412" y="750" width="4" height="5" fill="#ffcdd2"/>
<rect x="417" y="750" width="5" height="5" fill="#ffcdd2"/>
<rect x="423" y="750" width="4" height="6" fill="#f5504e"/>
<rect x="428" y="750" width="4" height="8" fill="#f5504e"/>
<rect x="433" y="750" width="4" height="11" fill="#f5504e"/>
<rect x="438" y="750" width="5" height="12" fill="#f5504e"/>
<rect x="444" y="750" width="4" height="13" fill="#f5504e"/>
<rect x="449" y="750" width="4" height="12" fill="#ffcdd2"/>
<rect x="454" y="750" width="4" height="10" fill="#ffcdd2"/>
<rect x="459" y="750" width="5" height="6" fill="#ffcdd2"/>
<rect x="465" y="750" width="4" height="4" fill="#ffcdd2"/>
<rect x="470" y="750" width="4" height="4" fill="#ffcdd2"/>
<rect x="475" y="750" width="4" height="1" fill="#ffcdd2"/>
<rect x="480" y="749" width="5" height="2" fill="#34a391"/>
<rect x="486" y="748" width="4" height="3" fill="#34a391"/>
<rect x="491" y="748" width="4" height="3" fill="#b2dfdb"/>
<rect x="496" y="747" width="4" height="4" fill="#34a391"/>
<rect x="501" y="747" width="5" height="4" fill="#34a391"/>
<rect x="507" y="747" width="4" height="4" fill="#b2dfdb"/>
<rect x="512" y="748" width="4" height="3" fill="#b2dfdb"/>
<rect x="517" y="750" width="4" height="1" fill="#b2dfdb"/>
<rect x="522" y="750" width="5" height="1" fill="#f5504e"/>
<rect x="528" y="750" width="4" height="1" fill="#f5504e"/>
<rect x="533" y="748" width="4" height="3" fill="#34a391"/>
<rect x="538" y="747" width="4" height="4" fill="#34a391"/>
<rect x="543" y="746" width="5" height="5" fill="#34a391"/>
<rect x="549" y="746" width="4" height="5" fill="#34a391"/>
<rect x="554" y="747" width="4" height="4" fill="#b2dfdb"/>
<rect x="559" y="747" width="4" height="4" fill="#34a391"/>
<rect x="564" y="746" width="5" height="5" fill="#34a391"/>
<rect x="570" y="747" width="4" height="4" fill="#b2dfdb"/>
<rect x="575" y="750" width="4" height="1" fill="#f5504e"/>
<rect x="580" y="750" width="4" height="4" fill="#f5504e"/>
<rect x="585" y="750" width="5" height="4" fill="#f5504e"/>
<rect x="591" y="750" width="4" height="5" fill="#f5504e"/>
<rect x="596" y="750" width="4" height="4" fill="#ffcdd2"/>
<rect x="601" y="750" width="4" height="3" fill="#ffcdd2"/>
<rect x="606" y="750" width="5" height="3" fill="#f5504e"/>
<rect x="612" y="750" width="4" height="3" fill="#f5504e"/>
<rect x="617" y="750" width="4" height="5" fill="#f5504e"/>
<rect x="622" y="750" width="4" height="6" fill="#f5504e"/>
<rect x="627" y="750" width="5" height="4" fill="#ffcdd2"/>
<rect x="633" y="750" width="4" height="3" fill="#ffcdd2"/>
<rect x="638" y="750" width="4" height="1" fill="#ffcdd2"/>
<rect x="643" y="747" width="4" height="4" fill="#34a391"/>
<rect x="648" y="746" width="5" height="5" fill="#34a391"/>
<rect x="654" y="743" width="4" height="8" fill="#34a391"/>
<rect x="659" y="741" width="4" height="10" fill="#34a391"/>
<rect x="664" y="739" width="4" height="12" fill="#34a391"/>
<rect x="669" y="738" width="5" height="13" fill="#34a391"/>
<rect x="675" y="739" width="4" height="12" fill="#b2dfdb"/>
<rect x="680" y="741" width="4" height="10" fill="#b2dfdb"/>
<rect x="685" y="742" width="4" height="9" fill="#b2dfdb"/>
<rect x="690" y="746" width="5" height="5" fill="#b2dfdb"/>
<rect x="696" y="749" width="4" height="2" fill="#b2dfdb"/>
<rect x="701" y="750" width="4" height="2" fill="#f5504e"/>
<rect x="706" y="750" width="4" height="3" fill="#f5504e"/>
<rect x="711" y="750" width="4" height="1" fill="#ffcdd2"/>
<rect x="716" y="750" width="5" height="1" fill="#ffcdd2"/>
<rect x="722" y="750" width="4" height="1" fill="#f5504e"/>
<rect x="727" y="748" width="4" height="3" fill="#34a391"/>
<rect x="732" y="748" width="4" height="3" fill="#34a391"/>
<rect x="737" y="749" width="5" height="2" fill="#b2dfdb"/>
<rect x="743" y="750" width="4" height="2" fill="#f5504e"/>
<rect x="748" y="750" width="4" height="4" fill="#f5504e"/>
<rect x="753" y="750" width="4" height="5" fill="#f5504e"/>
<rect x="758" y="750" width="5" height="6" fill="#f5504e"/>
<rect x="764" y="750" width="4" height="8" fill="#f5504e"/>
<rect x="769" y="750" width="4" height="9" fill="#f5504e"/>
<rect x="774" y="750" width="4" height="9" fill="#f5504e"/>
<rect x="779" y="750" width="5" height="9" fill="#f5504e"/>
<rect x="785" y="750" width="4" height="10" fill="#f5504e"/>
<rect x="790" y="750" width="4" height="10" fill="#f5504e"/>
<rect x="795" y="750" width="4" height="10" fill="#ffcdd2"/>
<rect x="800" y="750" width="5" height="8" fill="#ffcdd2"/>
<rect x="806" y="750" width="4" height="7" fill="#ffcdd2"/>
<rect x="811" y="750" width="4" height="7" fill="#ffcdd2"/>
<rect x="816" y="750" width="4" height="6" fill="#ffcdd2"/>
<rect x="821" y="750" width="5" height="4" fill="#ffcdd2"/>
<rect x="827" y="750" width="4" height="2" fill="#ffcdd2"/>
<rect x="832" y="750" width="4" height="4" fill="#f5504e"/>
<rect x="837" y="750" width="4" height="4" fill="#ffcdd2"/>
<rect x="842" y="750" width="5" height="4" fill="#f5504e"/>
<rect x="848" y="750" width="4" height="5" fill="#f5504e"/>
<rect x="853" y="750" width="4" height="4" fill="#ffcdd2"/>
<rect x="858" y="750" width="4" height="3" fill="#ffcdd2"/>
<rect x="863" y="750" width="5" height="3" fill="#f5504e"/>
<rect x="869" y="750" width="4" height="2" fill="#ffcdd2"/>
<rect x="874" y="750" width="4" height="3" fill="#f5504e"/>
<rect x="879" y="750" width="4" height="2" fill="#ffcdd2"/>
<rect x="884" y="750" width="5" height="4" fill="#f5504e"/>
<rect x="890" y="750" width="4" height="2" fill="#ffcdd2"/>
<rect x="895" y="750" width="4" height="6" fill="#f5504e"/>
<rect x="900" y="750" width="4" height="4" fill="#ffcdd2"/>
<rect x="905" y="750" width="5" height="3" fill="#ffcdd2"/>
<rect x="911" y="750" width="4" height="1" fill="#ffcdd2"/>
<rect x="916" y="748" width="4" height="3" fill="#34a391"/>
<rect x="921" y="746" width="4" height="5" fill="#34a391"/>
<rect x="926" y="744" width="5" height="7" fill="#34a391"/>
<rect x="932" y="745" width="4" height="6" fill="#b2dfdb"/>
<rect x="937" y="745" width="4" height="6" fill="#b2dfdb"/>
<rect x="942" y="745" width="4" height="6" fill="#b2dfdb"/>
<rect x="947" y="748" width="5" height="3" fill="#b2dfdb"/>
<rect x="953" y="747" width="4" height="4" fill="#34a391"/>
<rect x="958" y="748" width="4" height="3" fill="#b2dfdb"/>
<rect x="963" y="749" width="4" height="2" fill="#b2dfdb"/>
<rect x="968" y="750" width="5" height="2" fill="#f5504e"/>
<rect x="974" y="750" width="4" height="1" fill="#f5504e"/>
<rect x="979" y="750" width="4" height="2" fill="#f5504e"/>
<rect x="984" y="750" width="4" height="3" fill="#f5504e"/>
<rect x="989" y="750" width="5" height="3" fill="#ffcdd2"/>
<rect x="995" y="750" width="4" height="3" fill="#f5504e"/>
<rect x="1000" y="750" width="4" height="4" fill="#f5504e"/>
<rect x="1005" y="750" width="4" height="4" fill="#f5504e"/>
<rect x="1010" y="750" width="4" height="5" fill="#f5504e"/>
<rect x="1015" y="750" width="5" height="5" fill="#f5504e"/>
<rect x="1021" y="750" width="4" height="3" fill="#ffcdd2"/>
<rect x="1026" y="750" width="4" height="3" fill="#ffcdd2"/>
<rect x="1031" y="750" width="4" height="4" fill="#f5504e"/>
<rect x="1036" y="750" width="5" height="4" fill="#ffcdd2"/>
<rect x="1042" y="750" width="4" height="2" fill="#ffcdd2"/>
</g>
<line x1="-3" y1="750.5" x2="1449" y2="750.5" stroke="#8b8e98" stroke-opacity="0.6" stroke-width="1" stroke-dasharray="5 6" shape-rendering="crispEdges"/>
<line x1="304.4" y1="699.8" x2="599.0" y2="710.3" stroke="#111" stroke-width="1.7"/>
<line x1="749.4" y1="715.7" x2="1043.8" y2="726.2" stroke="#111" stroke-width="1.7"/>
<text transform="translate(673.6,713.0) rotate(2.04)" x="0" y="5.3" text-anchor="middle" font-family="'Liberation Sans', Arial, sans-serif" font-weight="700" font-size="14.9" stroke="#000" stroke-width="0.3" fill="#000">Bearish Divergence</text>
<polyline fill="none" stroke="#651fff" stroke-width="1.25" stroke-linejoin="round" points="0.0,761.1 5.3,761.5 9.6,760.9 12.8,759.2 16.0,758.6 20.0,760.2 25.5,760.4 27.1,761.1 41.0,771.7 48.0,778.0 60.0,783.0 75.0,781.0 86.0,771.7 104.0,763.4 120.0,762.4 135.0,760.2 140.0,762.0 147.5,771.4 158.0,790.0 168.0,800.0 185.0,805.0 210.0,800.0 230.0,785.0 239.0,771.4 244.9,758.9 250.7,752.0 256.0,748.5 261.4,747.2 266.7,748.8 273.1,749.8 278.4,748.8 283.7,745.0 289.0,741.8 294.4,738.1 296.4,735.5 303.8,730.1 309.7,727.5 315.0,726.4 320.3,722.7 325.1,719.7 331.0,713.1 336.8,707.2 342.2,701.9 346.4,700.3 351.7,701.2 357.1,701.6 361.3,703.3 366.6,705.6 372.5,707.6 378.4,706.9 383.7,706.4 387.9,706.2 392.7,709.4 398.6,711.2 404.4,714.4 409.2,716.0 414.5,716.8 419.9,717.4 425.2,721.1 430.5,725.3 435.3,729.3 441.2,733.3 445.3,736.5 450.6,739.5 455.4,739.9 461.3,737.4 466.6,735.8 471.9,736.3 477.3,733.1 484.7,731.5 493.2,730.4 499.6,729.1 508.1,728.3 514.5,728.9 519.8,730.1 525.2,730.7 530.0,731.2 535.8,727.5 542.2,725.1 549.6,723.7 557.1,723.0 562.4,722.1 567.7,721.3 572.0,721.6 577.3,725.1 582.6,728.3 588.0,730.1 593.3,731.2 596.4,731.2 602.8,730.3 611.3,731.7 617.7,734.6 624.1,737.0 630.5,736.5 635.8,736.0 640.0,735.2 644.3,731.2 650.7,728.9 656.0,724.0 661.3,719.3 666.6,714.7 672.0,711.2 677.3,709.4 682.6,709.2 686.9,709.1 692.2,711.5 697.5,714.4 702.8,717.1 708.2,718.2 713.5,717.9 720.9,717.6 727.3,715.8 732.6,714.5 738.0,714.7 743.3,716.8 745.3,717.7 752.8,721.6 761.3,724.5 766.6,728.5 774.1,732.8 782.6,736.0 787.9,739.5 793.2,742.2 798.5,743.4 807.1,743.4 813.5,745.2 817.7,746.1 823.0,745.0 828.9,743.2 833.7,746.3 841.1,747.7 848.6,749.8 857.1,749.5 865.6,750.0 872.0,749.5 877.3,751.4 882.6,751.7 886.9,752.7 892.2,752.5 897.5,756.6 901.7,757.6 908.1,755.9 914.5,753.3 920.9,749.3 926.2,746.4 932.6,744.7 937.9,743.8 943.2,743.4 948.5,744.5 953.9,744.0 959.2,744.0 964.5,745.6 970.9,747.2 977.3,748.2 983.7,749.8 990.1,750.7 996.4,751.4 1002.8,753.0 1009.2,754.9 1015.6,756.5 1022.0,756.4 1027.3,756.7 1032.6,758.6 1039.0,759.2 1044.5,758.1"/>
<polyline fill="none" stroke="#ff7a0e" stroke-width="1.25" stroke-linejoin="round" points="0.0,765.8 5.3,764.8 10.6,764.0 16.0,762.1 20.2,760.4 25.5,760.3 31.9,761.1 37.3,762.4 42.6,764.5 47.9,767.2 53.2,769.9 57.5,771.7 66.0,776.0 78.0,778.0 90.0,775.5 99.0,771.7 110.0,767.5 125.0,764.6 137.0,763.2 145.0,763.4 150.0,764.9 157.6,771.4 170.0,782.0 190.0,792.0 215.0,794.0 235.0,785.0 250.2,771.4 256.0,766.5 262.4,761.9 267.7,759.4 278.4,754.6 289.0,750.4 294.4,747.7 300.6,744.0 311.3,737.6 321.9,731.7 330.5,726.9 337.9,721.1 345.4,715.8 352.8,712.0 359.2,709.7 366.6,708.3 375.2,708.1 382.6,707.5 389.0,707.2 396.4,708.3 405.0,710.1 412.4,711.8 420.9,713.6 428.4,716.1 435.8,719.3 440.0,721.1 445.3,724.8 450.6,728.2 456.0,730.4 461.3,731.7 466.6,732.6 471.9,733.3 477.3,733.3 484.7,732.8 493.2,732.0 499.6,731.5 508.1,730.7 514.5,730.1 519.8,730.1 525.2,730.3 530.0,730.7 535.8,729.9 542.2,728.7 549.6,727.3 557.1,726.1 562.4,725.1 567.7,724.3 572.0,724.0 577.3,724.3 582.6,725.1 588.0,726.1 593.3,727.3 596.4,727.8 602.8,728.5 611.3,729.6 617.7,731.0 624.1,732.3 630.5,733.1 635.8,733.5 640.0,733.9 644.3,733.5 650.7,732.5 656.0,730.7 661.3,727.8 666.6,724.8 672.0,722.1 677.3,719.7 682.6,717.4 686.9,715.8 692.2,715.2 697.5,715.2 702.8,716.1 708.2,716.6 713.5,716.8 720.9,717.0 727.3,716.8 732.6,716.3 738.0,716.0 743.3,716.1 750.6,717.7 761.3,719.7 771.9,724.3 782.6,728.5 793.2,733.3 803.9,736.7 814.5,739.7 825.2,741.5 835.8,742.9 846.4,744.8 857.1,746.6 867.7,747.9 878.4,749.1 889.0,750.4 896.4,751.9 902.8,753.3 909.2,753.9 915.5,753.3 921.9,752.2 928.3,751.1 934.7,749.5 941.1,748.2 947.5,747.2 953.9,746.3 960.3,745.9 966.6,745.8 973.0,746.3 979.4,746.6 985.8,747.4 992.2,747.9 998.6,748.5 1005.0,749.8 1011.4,751.1 1017.7,752.5 1024.1,753.5 1030.5,754.6 1036.9,755.5 1044.5,756.0"/>
</g>
<text x="6.6" y="698.5" font-family="'Liberation Sans', Arial, sans-serif" font-size="12" fill="#131722">MACD</text>
<text x="48.2" y="698.5" font-family="'Liberation Sans', Arial, sans-serif" font-size="12" letter-spacing="0.32" fill="#131722">12 26 close</text>
<text x="122.3" y="698.5" font-family="'Liberation Sans', Arial, sans-serif" font-size="12" fill="#ffcdd2" letter-spacing="0.4">−0.17</text>
<text x="161" y="698.5" font-family="'Liberation Sans', Arial, sans-serif" font-size="12" fill="#651fff" letter-spacing="0.4">−0.82</text>
<text x="200.1" y="698.5" font-family="'Liberation Sans', Arial, sans-serif" font-size="12" fill="#ff7a0e" letter-spacing="0.4">−0.65</text>
<g stroke="#fff" stroke-width="4" stroke-linejoin="round" fill="#fff">
<rect x="22" y="748" width="4" height="4" stroke="none"/>
<path d="M9,743 H21 V758 H15.2 V749 H9 Z"/><circle cx="26" cy="745.9" r="2.9"/><path d="M31.9,743 H38.9 L33.4,758 H26.1 Z"/>
<text x="45.6" y="757.9" font-family="'Liberation Sans', Arial, sans-serif" font-weight="700" font-size="21.6" textLength="121.4" lengthAdjust="spacingAndGlyphs">TradingView</text>
</g>
<g fill="#111">
<path d="M9,743 H21 V758 H15.2 V749 H9 Z"/><circle cx="26" cy="745.9" r="2.9"/><path d="M31.9,743 H38.9 L33.4,758 H26.1 Z"/>
<text x="45.6" y="757.9" font-family="'Liberation Sans', Arial, sans-serif" font-weight="700" font-size="21.6" textLength="121.4" lengthAdjust="spacingAndGlyphs">TradingView</text>
</g>
<text x="31.4" y="790.6" text-anchor="middle" font-family="'Liberation Sans', Arial, sans-serif" font-size="12" fill="#131722">3</text>
<text x="94.4" y="790.6" text-anchor="middle" font-family="'Liberation Sans', Arial, sans-serif" font-size="12" fill="#131722">5</text>
<text x="157.3" y="790.6" text-anchor="middle" font-family="'Liberation Sans', Arial, sans-serif" font-size="12" fill="#131722">7</text>
<text x="220.3" y="790.6" text-anchor="middle" font-family="'Liberation Sans', Arial, sans-serif" font-size="12" fill="#131722">9</text>
<text x="283.2" y="790.6" text-anchor="middle" font-family="'Liberation Sans', Arial, sans-serif" font-size="12" fill="#131722">11</text>
<text x="346.2" y="790.6" text-anchor="middle" font-family="'Liberation Sans', Arial, sans-serif" font-size="12" fill="#131722">13</text>
<text x="409.2" y="790.6" text-anchor="middle" font-family="'Liberation Sans', Arial, sans-serif" font-size="12" fill="#131722">15</text>
<text x="472.1" y="790.6" text-anchor="middle" font-family="'Liberation Sans', Arial, sans-serif" font-size="12" fill="#131722">17</text>
<text x="535.1" y="790.6" text-anchor="middle" font-family="'Liberation Sans', Arial, sans-serif" font-size="12" fill="#131722">19</text>
<text x="598.0" y="790.6" text-anchor="middle" font-family="'Liberation Sans', Arial, sans-serif" font-size="12" fill="#131722">21</text>
<text x="661.0" y="790.6" text-anchor="middle" font-family="'Liberation Sans', Arial, sans-serif" font-size="12" fill="#131722">23</text>
<text x="724.0" y="790.6" text-anchor="middle" font-family="'Liberation Sans', Arial, sans-serif" font-size="12" fill="#131722">25</text>
<text x="786.9" y="790.6" text-anchor="middle" font-family="'Liberation Sans', Arial, sans-serif" font-size="12" fill="#131722">27</text>
<text x="849.9" y="790.6" text-anchor="middle" font-family="'Liberation Sans', Arial, sans-serif" font-size="12" fill="#131722">29</text>
<text x="912.8" y="790.6" text-anchor="middle" font-family="'Liberation Sans', Arial, sans-serif" font-size="12" font-weight="700" fill="#131722">May</text>
<text x="975.8" y="790.6" text-anchor="middle" font-family="'Liberation Sans', Arial, sans-serif" font-size="12" fill="#131722">3</text>
<text x="1038.8" y="790.6" text-anchor="middle" font-family="'Liberation Sans', Arial, sans-serif" font-size="12" fill="#131722">5</text>
<text x="1101.7" y="790.6" text-anchor="middle" font-family="'Liberation Sans', Arial, sans-serif" font-size="12" fill="#131722">7</text>
<text x="1164.7" y="790.6" text-anchor="middle" font-family="'Liberation Sans', Arial, sans-serif" font-size="12" fill="#131722">9</text>
<text x="1227.6" y="790.6" text-anchor="middle" font-family="'Liberation Sans', Arial, sans-serif" font-size="12" fill="#131722">11</text>
<text x="1290.6" y="790.6" text-anchor="middle" font-family="'Liberation Sans', Arial, sans-serif" font-size="12" fill="#131722">13</text>
<text x="1353.6" y="790.6" text-anchor="middle" font-family="'Liberation Sans', Arial, sans-serif" font-size="12" fill="#131722">15</text>
<text x="1416.5" y="790.6" text-anchor="middle" font-family="'Liberation Sans', Arial, sans-serif" font-size="12" fill="#131722">17</text>
<path d="M1473.8,780.4 h7.2 l3.6,6.2 l-3.6,6.2 h-7.2 l-3.6,-6.2 z" fill="none" stroke="#131722" stroke-width="1.2" stroke-linejoin="round"/>
<circle cx="1477.4" cy="786.6" r="1.9" fill="none" stroke="#131722" stroke-width="1.2"/>
</svg>
</body></html>
